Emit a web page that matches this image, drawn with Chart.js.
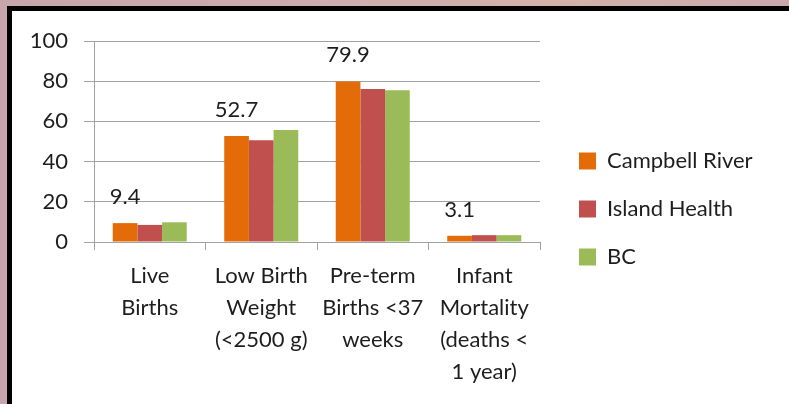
<!DOCTYPE html>
<html>
<head>
<meta charset="utf-8">
<script src="https://cdn.jsdelivr.net/npm/chart.js@4.4.1/dist/chart.umd.min.js"></script>
<style>
  html, body { margin: 0; padding: 0; width: 789px; height: 404px; overflow: hidden; }
  body { background: linear-gradient(90deg, #c7a5ab 0%, #cdadb0 40%, #d3b3a8 70%, #c9a9ae 100%); position: relative; }
  #frame { position: absolute; left: 7px; top: 6px; width: 782px; height: 398px; background: #000; }
  #panel { position: absolute; left: 12px; top: 11px; width: 777px; height: 393px; background: #fff; }
  canvas { display: block; }
</style>
</head>
<body>
<div id="frame"></div>
<div id="panel"><canvas id="c" width="777" height="393"></canvas></div>
<script>
const categories = [
  ["Live", "Births"],
  ["Low Birth", "Weight", "(<2500 g)"],
  ["Pre-term", "Births <37", "weeks"],
  ["Infant", "Mortality", "(deaths <", "1 year)"]
];
const seriesNames = ["Campbell River", "Island Health", "BC"];
const campbellRiver = [9.4, 52.7, 79.9, 3.1];
const islandHealth = [8.5, 50.6, 76.1, 3.4];
const bc = [9.8, 55.7, 75.5, 3.4];
const campbellLabels = ["9.4", "52.7", "79.9", "3.1"];
const yTicks = [0, 20, 40, 60, 80, 100];

const colors = ["#E36C09", "#C0504D", "#9BBB59"];
const FONT = "Lato";
const TEXT = "#1e1e1e";
const GRID = "#a2a2a2";

const valueLabels = {
  id: "valueLabels",
  afterDatasetsDraw(chart) {
    const meta = chart.getDatasetMeta(0);
    const ctx = chart.ctx;
    ctx.save();
    ctx.font = "22px " + FONT;
    ctx.fillStyle = TEXT;
    ctx.textAlign = "center";
    ctx.textBaseline = "middle";
    meta.data.forEach((el, i) => {
      ctx.fillText(campbellLabels[i], el.x, el.y - 26);
    });
    ctx.restore();
  }
};

// Give the legend a fixed box and position it like the original slide.
const legendPlacement = {
  id: "legendPlacement",
  afterInit(chart) {
    const lg = chart.legend;
    if (!lg || lg._patched) return;
    const origFit = lg.fit.bind(lg);
    lg.fit = function () {
      this.maxWidth = 2000;
      origFit();
      this.width = 249;
    };
    lg._patched = true;
  },
  afterLayout(chart) {
    const lg = chart.legend;
    if (!lg) return;
    lg.left = 541;
    lg.right = 777;
    lg.width = 236;
    lg.top = 113;
    lg.bottom = 393;
    lg.height = 280;
  }
};

new Chart(document.getElementById("c"), {
  type: "bar",
  data: {
    labels: categories,
    datasets: [
      { label: seriesNames[0], data: campbellRiver, backgroundColor: colors[0] },
      { label: seriesNames[1], data: islandHealth, backgroundColor: colors[1] },
      { label: seriesNames[2], data: bc, backgroundColor: colors[2] }
    ]
  },
  options: {
    responsive: false,
    animation: false,
    devicePixelRatio: 1,
    layout: { padding: { top: 30, bottom: 0, left: 0, right: 0 } },
    datasets: { bar: { categoryPercentage: 0.664, barPercentage: 1.0 } },
    plugins: {
      legend: {
        position: "right",
        align: "start",
        labels: {
          font: { family: FONT, size: 22 },
          color: TEXT,
          boxWidth: 17,
          boxHeight: 17,
          padding: 26
        }
      },
      tooltip: { enabled: false }
    },
    scales: {
      x: {
        grid: { display: true, offset: true, drawOnChartArea: false, color: GRID, tickLength: 8, lineWidth: 1 },
        border: { display: true, color: GRID, width: 1 },
        ticks: {
          font: { family: FONT, size: 22, lineHeight: 1.4545 },
          color: TEXT,
          maxRotation: 0,
          minRotation: 0,
          autoSkip: false,
          padding: 10
        },
        afterFit(s) { s.height = 162; }
      },
      y: {
        min: 0,
        max: 100,
        afterBuildTicks(s) { s.ticks = yTicks.map(v => ({ value: v })); },
        grid: { color: GRID, tickLength: 10, lineWidth: 1 },
        border: { display: true, color: GRID, width: 1 },
        ticks: {
          font: { family: FONT, size: 22 },
          color: TEXT,
          padding: 16
        },
        afterFit(s) { s.width = 82; }
      }
    }
  },
  plugins: [legendPlacement, valueLabels]
});
</script>
</body>
</html>
